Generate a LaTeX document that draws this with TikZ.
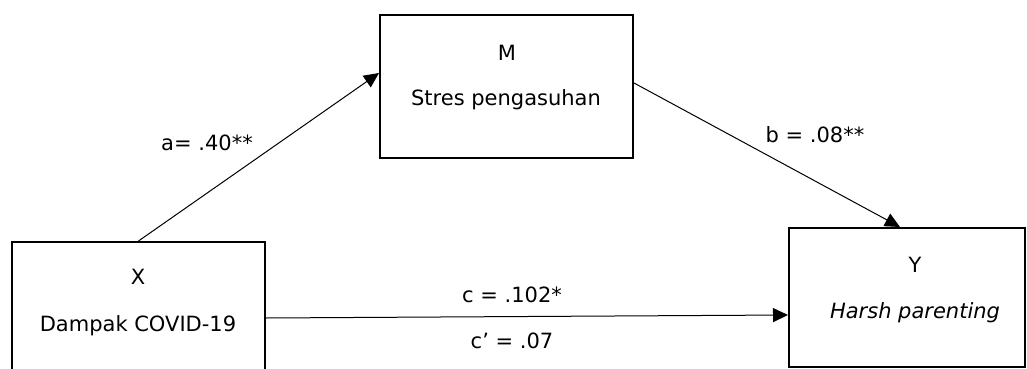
\documentclass[tikz,border=0pt]{standalone}
\usepackage{fontspec}
\setmainfont{DejaVu Sans}
\usetikzlibrary{arrows.meta,calc}

\begin{document}
\begin{tikzpicture}[
    x=0.5pt, y=-0.5pt,
    font=\fontsize{10.5}{12}\selectfont,
    varbox/.style={draw, line width=1pt, inner sep=0},
    arrow/.style={-{Triangle[length=7.5pt, width=7pt]}, line width=0.5pt},
    coef/.style={inner sep=1pt}
]
\useasboundingbox (0,0) rectangle (1027,369);
\clip (0,0) rectangle (1027,369);

% Boxes
\node[varbox, minimum width=126.5pt, minimum height=71.5pt] (M) at (506.5, 86.5) {};
\node[varbox, minimum width=126.5pt, minimum height=70pt] (X) at (138.5, 312) {};
\node[varbox, minimum width=118pt, minimum height=69.5pt] (Y) at (907, 297.5) {};

% Box texts
\node (Mlab) at (507, 53) {M};
\node (Mname) at (506, 100) {Stres pengasuhan};
\node (Xlab) at (138, 277) {X};
\node (Xname) at (138, 326) {Dampak COVID-19};
\node (Ylab) at (915, 265) {Y};
\node (Yname) at (915, 313) {\itshape Harsh parenting};

% Paths
\draw[arrow] (X.north) -- ([yshift=6.75pt]M.west);
\draw[arrow] ([yshift=1.75pt]M.east) -- ([xshift=-3.5pt]Y.north);
\draw[arrow] ([yshift=-3pt]X.east) -- ([yshift=-8.75pt]Y.west);

% Coefficients
\node[coef] (acoef) at (207, 143) {a= .40**};
\node[coef] (bcoef) at (815, 135) {b = .08**};
\node[coef] (ccoef) at (512, 295) {c = .102*};
\node[coef] (cpcoef) at (512, 341) {c’ = .07};

\end{tikzpicture}
\end{document}
